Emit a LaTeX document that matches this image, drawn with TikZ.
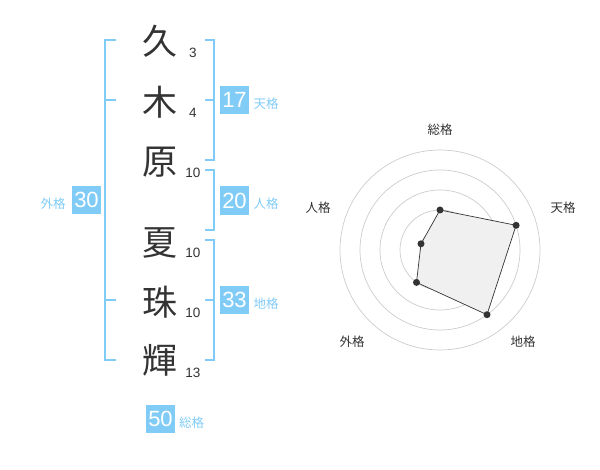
\documentclass[tikz,border=0pt]{standalone}
\usepackage{fontspec}
\setmainfont{Liberation Sans}
\newfontfamily\jp{Noto Sans CJK JP}
\usepackage{tikz}
\usetikzlibrary{positioning}

\definecolor{kakublue}{HTML}{80CCF7}
\definecolor{ink}{HTML}{333333}
\definecolor{ring}{HTML}{CCCCCC}

\begin{document}
\begin{tikzpicture}[x=1pt, y=-1pt,
    kanji/.style={text=ink, font=\jp\fontsize{35}{35}\selectfont, inner sep=0pt},
    strokes/.style={text=ink, font=\fontsize{13.5}{13.5}\selectfont, inner sep=0pt},
    kakubox/.style={fill=kakublue, text=white, minimum size=28.5pt, inner sep=0pt, font=\fontsize{22}{22}\selectfont},
    kakuname/.style={text=kakublue, font=\jp\fontsize{12.5}{12.5}\selectfont, inner sep=0pt},
    bracket/.style={draw=kakublue, line width=2pt},
    radarname/.style={text=ink, font=\jp\fontsize{12.5}{12.5}\selectfont, inner sep=0pt},
    pt/.style={circle, fill=ink, inner sep=0pt, minimum size=7pt}]
                    \useasboundingbox (0,0) rectangle (600,470);
                    % name characters
                    \node (c1) [kanji] at (160,41) {久};
                    \node (c2) [kanji] at (160,102) {木};
                    \node (c3) [kanji] at (160,162) {原};
                    \node (c4) [kanji] at (160,243) {夏};
                    \node (c5) [kanji] at (160,302) {珠};
                    \node (c6) [kanji] at (160,360) {輝};
                    \node (s1) [strokes] at (193,53) {3};
                    \node (s2) [strokes] at (193,113) {4};
                    \node (s3) [strokes] at (193,173) {10};
                    \node (s4) [strokes] at (193,253) {10};
                    \node (s5) [strokes] at (193,313) {10};
                    \node (s6) [strokes] at (193,373) {13};
                    % brackets
                    \draw[bracket] (116,40) -- (105,40) -- (105,360) -- (116,360);
                    \draw[bracket] (105,100) -- (116,100);
                    \draw[bracket] (105,300) -- (116,300);
                    \draw[bracket] (205,40) -- (214,40) -- (214,160) -- (205,160);
                    \draw[bracket] (205,100) -- (214,100);
                    \draw[bracket] (205,170) -- (214,170) -- (214,230) -- (205,230);
                    \draw[bracket] (205,240) -- (214,240) -- (214,360) -- (205,360);
                    \draw[bracket] (205,300) -- (214,300);
                    % kaku values
                    \node (ten) [kakubox] at (234.5,100) {17};
                    \node (tenlbl) [kakuname] at (266,104) {天格};
                    \node (jin) [kakubox] at (234.5,200.5) {20};
                    \node (jinlbl) [kakuname] at (266,204) {人格};
                    \node (chi) [kakubox] at (234.5,300) {33};
                    \node (chilbl) [kakuname] at (266,304) {地格};
                    \node (gai) [kakubox] at (86.5,200) {30};
                    \node (gailbl) [kakuname] at (53,203.5) {外格};
                    \node (sou) [kakubox] at (160.5,419) {50};
                    \node (soulbl) [kakuname] at (191.5,423) {総格};
                    % radar
                    \begin{scope}[shift={(440,250)}]
                    \foreach \r in {20,40,...,100}
                        \draw[ring, line width=0.7pt] (0,0) circle[radius=\r];
                    \fill[ring] (0,0) circle[radius=4];
                    \node (rsou) [radarname] at (0,-120) {総格};
                    \node (rten) [radarname] at (123,-42) {天格};
                    \node (rchi) [radarname] at (83,92) {地格};
                    \node (rgai) [radarname] at (-88,92) {外格};
                    \node (rjin) [radarname] at (-122,-42) {人格};
                    \coordinate (psou) at (0,-40);
                    \coordinate (pten) at (76.1,-24.7);
                    \coordinate (pchi) at (47,64.7);
                    \coordinate (pgai) at (-23.5,32.4);
                    \coordinate (pjin) at (-19,-6.2);
                    \filldraw[fill=black!6, draw=ink, line width=0.7pt]
                        (psou) -- (pten) -- (pchi) -- (pgai) -- (pjin) -- cycle;
                    \foreach \p in {psou,pten,pchi,pgai,pjin}
                        \node[pt] at (\p) {};
                    \end{scope}
                \end{tikzpicture}
\end{document}
